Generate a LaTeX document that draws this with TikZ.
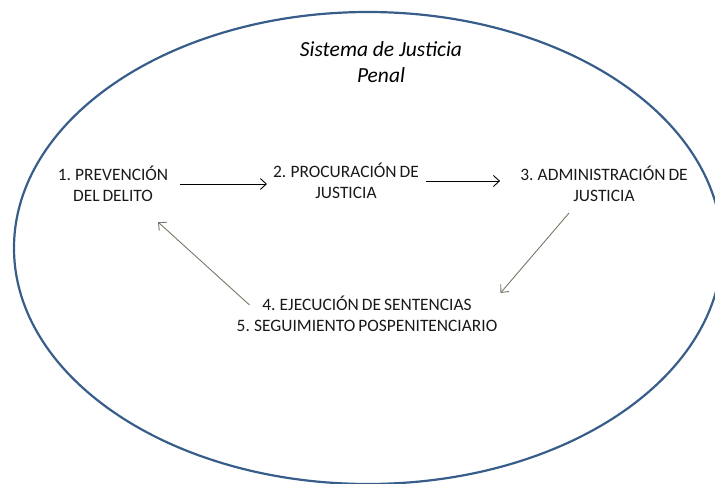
\documentclass[tikz,border=0pt]{standalone}
\usepackage{fontspec}
\setmainfont{Carlito}
\newfontfamily\stagefont[WordSpace=0.75]{Carlito}
\usepackage{tikz}
\usetikzlibrary{positioning, arrows.meta}
\definecolor{frameblue}{RGB}{56,93,138}
\definecolor{linkgray}{RGB}{120,120,104}
\tikzset{
    frame/.style={draw=frameblue, line width=2.2pt},
    stage/.style={align=center, inner sep=3pt, text=black!90, font=\stagefont\fontsize{17.4}{21}\selectfont},
    title/.style={align=center, inner sep=3pt, font=\fontsize{21.5}{26.5}\selectfont\itshape},
    arrow/.style={-{Straight Barb[length=6pt,width=11pt]}, line width=0.9pt},
    back/.style={arrow, draw=linkgray}
}
\begin{document}
\begin{tikzpicture}[x=1pt, y=-1pt]
        \useasboundingbox (0,0) rectangle (715,484);
        \clip (0,0) rectangle (715,484);
        \draw[frame] (368,248) ellipse [x radius=354pt, y radius=236pt];

        % Title
        \node[title] (T) at (381,62) {Sistema de Justicia\\Penal};

        % Stages
        \node[stage] (S1) at (113,184) {1. PREVENCIÓN\\DEL DELITO};
        \node[stage] (S2) at (346,181) {2. PROCURACIÓN DE\\JUSTICIA};
        \node[stage] (S3) at (604,184) {3. ADMINISTRACIÓN DE\\JUSTICIA};
        \node[stage] (S4) at (367,314) {4. EJECUCIÓN DE SENTENCIAS\\5. SEGUIMIENTO POSPENITENCIARIO};

        % Connections
        \draw[arrow, shorten <=9pt, shorten >=3pt] (S1.east) -- (S1.east -| S2.west);
        \draw[arrow, shorten <=4pt, shorten >=17pt] (S2.east) -- (S2.east -| S3.west);
        \draw[back] ([xshift=-35pt, yshift=-8pt]S3.south) -- (S4.north east);
        \draw[back] ([xshift=16pt, yshift=-12pt]S4.north west) -- ([xshift=45pt, yshift=-17pt]S1.south);
    \end{tikzpicture}
\end{document}
